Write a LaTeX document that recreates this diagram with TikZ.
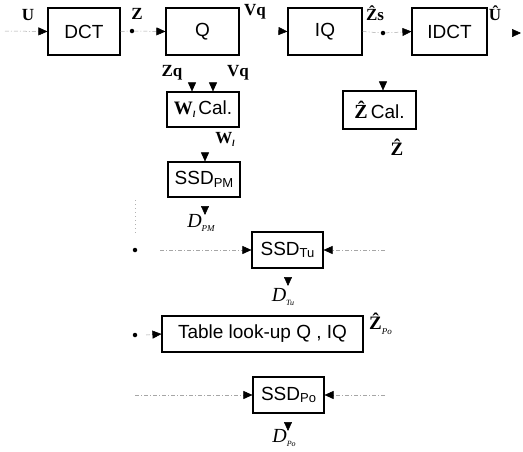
\documentclass[tikz,border=0pt]{standalone}
\usepackage{fontspec}
\setmainfont{Liberation Serif}
\setsansfont{Liberation Sans}
\usetikzlibrary{arrows.meta}
\tikzset{
  blk/.style={draw=black, line width=1.1pt, fill=white, inner sep=0pt, font=\sffamily\fontsize{19}{19}\selectfont},
  lbl/.style={inner sep=0pt, font=\bfseries\fontsize{17}{17}\selectfont},
  dlbl/.style={inner sep=0pt, font=\itshape\fontsize{20}{20}\selectfont},
  arr/.style={draw=gray!70, line width=0.5pt, dash pattern=on 4pt off 2pt on 1pt off 2pt, -{Triangle[length=9pt,width=8pt,black]}},
  headonly/.style={draw=white, line width=0.5pt, -{Triangle[length=9pt,width=8pt,black]}},
  ln/.style={draw=gray!70, line width=0.5pt, dash pattern=on 4pt off 2pt on 1pt off 2pt},
  dotted line/.style={draw=gray!60, line width=0.6pt, dash pattern=on 1pt off 3pt},
  dotn/.style={circle, fill=black, inner sep=0pt, minimum size=4.5pt},
}
\newcommand{\sub}[1]{\raisebox{-2.5pt}{\fontsize{13}{13}\selectfont #1}}
\newcommand{\Zhat}{{\rmfamily\bfseries\^{Z}}}
\begin{document}
\begin{tikzpicture}[x=1pt,y=-1pt]
\useasboundingbox (0,0) rectangle (523,451);
% main row
\node[blk, minimum width=72pt, minimum height=47pt] (dct) at (84,31.5) {DCT};
\node[blk, minimum width=73pt, minimum height=47pt] (q) at (202.5,31.5) {Q};
\node[blk, minimum width=74pt, minimum height=47pt] (iq) at (325,31.5) {IQ};
\node[blk, minimum width=75pt, minimum height=47pt] (idct) at (449.5,31.5) {IDCT};
% labels row
\node[lbl] (U) at (28,15) {U};
\node[lbl] (Z) at (137,14) {Z};
\node[lbl] (Vq) at (255,12) {Vq};
\node[lbl] (Zs) at (375,13) {\Zhat s};
\node[lbl] (Uh) at (495,13) {\^{U}};
\coordinate (uin) at (5,31);
\node[dotn] (d1) at (132,31) {};
\coordinate (vqs) at (277,31);
\node[dotn] (d2) at (383,33) {};
\coordinate (uo1) at (509,33);
\coordinate (uo2) at (521,33);
\draw[arr] (uin) -- (dct.west);
\draw[ln] (dct.east) -- (d1);
\draw[arr] (d1) -- (q.west);
\draw[headonly] (vqs) -- (iq.west);
\draw[ln] (iq.east) -- (d2);
\draw[arr] (d2) -- (idct.west);
\draw[headonly] (uo1) -- (uo2);
% W cal
\node[blk, minimum width=72pt, minimum height=35pt] (wcal) at (203,109.5) {\rmfamily\bfseries W\raisebox{-3pt}{\fontsize{9}{9}\selectfont\itshape l}\,\sffamily\mdseries Cal.};
\node[lbl] (Zq) at (172,73) {Zq};
\node[lbl] (Vq2) at (238,73) {Vq};
\coordinate (zqa) at (192,80);
\coordinate (vqa) at (213,80);
\draw[headonly] (zqa) -- (zqa |- wcal.north);
\draw[headonly] (vqa) -- (vqa |- wcal.north);
\node[lbl] (Wl) at (225,139) {W\raisebox{-3pt}{\fontsize{9}{9}\selectfont\itshape l}};
\node[blk, minimum width=72pt, minimum height=35pt] (ssdpm) at (204,179.5) {SSD\sub{PM}};
\coordinate (wla) at (205,150);
\draw[headonly] (wla) -- (wla |- ssdpm.north);
\node[dlbl] (dpm) at (201,223) {D\raisebox{-4pt}{\fontsize{9}{9}\selectfont PM}};
\coordinate (dpma) at (205,203);
\coordinate (dpmb) at (205,215);
\draw[headonly] (dpma) -- (dpmb);
% Z cal
\node[blk, minimum width=73pt, minimum height=38pt] (zcal) at (379.5,110) {{\fontsize{20}{20}\selectfont\Zhat}\,Cal.};
\coordinate (zca) at (383,79);
\draw[headonly] (zca) -- (zca |- zcal.north);
\node[lbl, font=\bfseries\fontsize{19}{19}\selectfont] (Zh) at (397,147) {\^{Z}};
% SSD Tu
\node[blk, minimum width=71pt, minimum height=36pt] (ssdtu) at (287.5,250) {SSD\sub{Tu}};
\coordinate (vt1) at (135,200);
\coordinate (vt2) at (135,236);
\draw[dotted line] (vt1) -- (vt2);
\node[dotn] (d3) at (135,250) {};
\coordinate (tul) at (160,250);
\coordinate (tur) at (385,250);
\draw[arr] (tul) -- (ssdtu.west);
\draw[arr] (tur) -- (ssdtu.east);
\node[dlbl] (dtu) at (283,297) {D\raisebox{-4pt}{\fontsize{8}{8}\selectfont Tu}};
\coordinate (dtua) at (288,272);
\coordinate (dtub) at (288,286);
\draw[headonly] (dtua) -- (dtub);
% Table
\node[blk, minimum width=201pt, minimum height=36pt] (tab) at (262.5,334) {Table look-up Q , IQ};
\node[dotn] (d4) at (135,335) {};
\coordinate (tbl) at (146,335);
\draw[arr] (tbl) -- (tab.west);
\node[lbl, anchor=west, font=\bfseries\fontsize{19}{19}\selectfont] (zpo) at (369,324) {\^{Z}\raisebox{-5pt}{\fontsize{9}{9}\selectfont\itshape\mdseries Po}};
% SSD Po
\node[blk, minimum width=71pt, minimum height=36pt] (ssdpo) at (288.5,395) {SSD\sub{Po}};
\coordinate (pol) at (135,395);
\coordinate (por) at (385,395);
\draw[arr] (pol) -- (ssdpo.west);
\draw[arr] (por) -- (ssdpo.east);
\node[dlbl] (dpo) at (284,438) {D\raisebox{-4pt}{\fontsize{8}{8}\selectfont Po}};
\coordinate (dpoa) at (288,417);
\coordinate (dpob) at (288,431);
\draw[headonly] (dpoa) -- (dpob);
\end{tikzpicture}
\end{document}
